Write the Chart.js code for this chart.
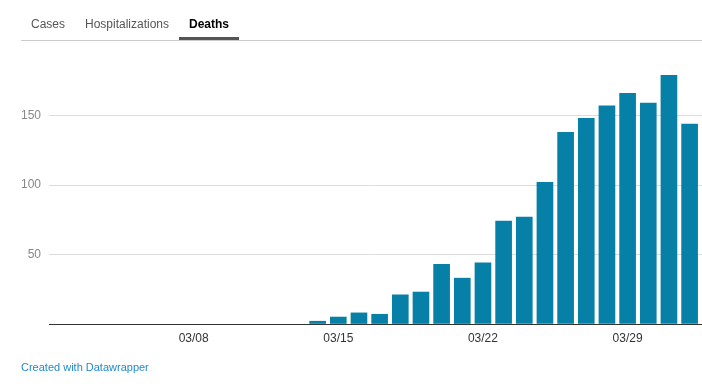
<!DOCTYPE html>
<html>
<head>
<meta charset="utf-8">
<script src="https://cdn.jsdelivr.net/npm/chart.js@4"></script>
<style>
  body { margin: 0; background: #fff; font-family: Arial, "Liberation Sans", Helvetica, sans-serif; }
  #wrap { position: relative; width: 702px; height: 391px; overflow: hidden; }
  canvas { position: absolute; left: 0; top: 0; }
  .tab { position: absolute; top: 17px; font-size: 12px; line-height: 14px; color: #555; white-space: nowrap; }
  .tab.active { color: #000; font-weight: bold; }
  #underline { position: absolute; left: 179px; top: 37px; width: 60px; height: 3px; background: #555; }
  #rule { position: absolute; left: 21px; right: 0; top: 40px; height: 1px; background: #ccc; }
  #credit { position: absolute; left: 21px; top: 361px; font-size: 11px; line-height: 13px; color: #1e8bcb; }
</style>
</head>
<body>
<div id="wrap">
  <canvas id="barChart" width="702" height="391"></canvas>
  <div class="tab" style="left:31px">Cases</div>
  <div class="tab" style="left:85px">Hospitalizations</div>
  <div class="tab active" style="left:189px">Deaths</div>
  <div id="rule"></div>
  <div id="underline"></div>
  <div id="credit">Created with Datawrapper</div>
</div>
<script>
// one entry per day, 03/01 to 04/01
const dates = [
  '03/01', '03/02', '03/03', '03/04', '03/05', '03/06', '03/07', '03/08',
  '03/09', '03/10', '03/11', '03/12', '03/13', '03/14', '03/15', '03/16',
  '03/17', '03/18', '03/19', '03/20', '03/21', '03/22', '03/23', '03/24',
  '03/25', '03/26', '03/27', '03/28', '03/29', '03/30', '03/31', '04/01',
];
const deaths = [
  0, 0, 0, 0, 0, 0, 0, 0,
  0, 0, 0, 0, 0, 2, 5, 8,
  7, 21, 23, 43, 33, 44, 74, 77,
  102, 138, 148, 157, 166, 159, 179, 144,
];
const xTickDays = ['03/08', '03/15', '03/22', '03/29'];
const yTicks = [50, 100, 150];

Chart.defaults.font.family = 'Arial, "Liberation Sans", Helvetica, sans-serif';

new Chart(document.getElementById('barChart'), {
  type: 'bar',
  data: {
    datasets: [
      {
        // zero days drawn as nothing (no hairline on the axis)
        data: deaths.map((v, i) => ({ x: i, y: v })).filter((p) => p.y > 0),
        backgroundColor: '#0780a7',
        barThickness: 16,
      },
    ],
  },
  options: {
    responsive: false,
    animation: false,
    devicePixelRatio: 1,
    layout: {
      padding: { top: 67, left: 0, right: 0, bottom: 0 },
    },
    scales: {
      x: {
        type: 'linear',
        offset: false,
        min: 0,
        max: 31.6,
        afterFit: (scale) => { scale.height = 67; },
        afterBuildTicks: (scale) => {
          scale.ticks = xTickDays.map((d) => ({ value: dates.indexOf(d) }));
        },
        grid: { display: false, drawTicks: false },
        border: { display: true, color: '#333', width: 1 },
        ticks: {
          color: '#333',
          font: { size: 12 },
          padding: 7,
          maxRotation: 0,
          autoSkip: false,
          callback: (v) => dates[v],
        },
      },
      y: {
        min: 0,
        max: 185,
        afterFit: (scale) => { scale.width = 49; },
        afterBuildTicks: (scale) => {
          scale.ticks = [0].concat(yTicks).map((v) => ({ value: v }));
        },
        grid: {
          drawTicks: false,
          color: (ctx) => (ctx.tick && ctx.tick.value === 0 ? 'rgba(0,0,0,0)' : '#dcdcdc'),
        },
        border: { display: false },
        ticks: {
          color: '#888',
          font: { size: 12 },
          padding: 8,
          callback: (v) => (v === 0 ? '' : v),
        },
      },
    },
    plugins: {
      legend: { display: false },
      tooltip: { enabled: false },
    },
  },
});
</script>
</body>
</html>
